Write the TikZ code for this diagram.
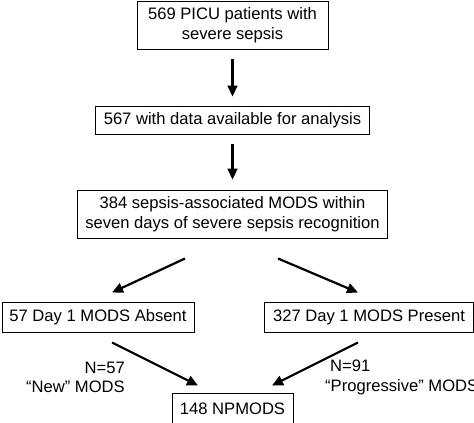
\documentclass[tikz,border=0pt]{standalone}
\usepackage{fontspec}
\setmainfont{Liberation Sans}
\usetikzlibrary{arrows.meta}

\tikzset{
  box/.style={draw, line width=1pt, inner sep=0pt, align=center},
  arr/.style={-{Triangle[length=11pt,width=10pt]}, line width=2.2pt},
  lbl/.style={inner sep=0pt}
}

\begin{document}
\begin{tikzpicture}[x=1pt, y=-1pt, every node/.style={font=\fontsize{16.6}{19.5}\selectfont}]
      \useasboundingbox (0,0) rectangle (474,423);
      % boxes
      \node[box, minimum width=191pt, minimum height=48pt] (start) at (232.5, 25) {569 PICU patients with\\severe sepsis};
      \node[box, minimum width=274pt, minimum height=28pt] (data) at (232.5, 120) {567 with data available for analysis};
      \node[box, minimum width=310pt, minimum height=48pt] (mods) at (232.5, 214) {384 sepsis-associated MODS within\\seven days of severe sepsis recognition};
      \node[box, minimum width=192pt, minimum height=30pt] (absent) at (98, 317) {57 Day 1 MODS Absent};
      \node[box, minimum width=209pt, minimum height=30pt] (present) at (369, 317) {327 Day 1 MODS Present};
      \node[box, minimum width=121pt, minimum height=32pt] (npmods) at (232.5, 409) {148 NPMODS};
      % labels
      \node[lbl, anchor=east, align=right] (newlbl) at (125, 377.5) {N=57\\“New” MODS};
      \node[lbl, anchor=west, align=left] (proglbl) at (325, 377.5) {\hspace*{5pt}N=91\\“Progressive” MODS};
      % arrows
      \draw[arr, shorten <=9pt, shorten >=9pt] (start.south) -- (data.north);
      \draw[arr, shorten <=9pt, shorten >=10pt] (data.south) -- (mods.north);
      \draw[arr] ([xshift=-47.5pt, yshift=-20pt]mods.south) -- ([xshift=14pt, yshift=9pt]absent.north);
      \draw[arr] ([xshift=45.5pt, yshift=-20pt]mods.south) -- ([xshift=-11pt, yshift=9pt]present.north);
      \draw[arr] ([xshift=14pt, yshift=-10pt]absent.south) -- ([xshift=-34.5pt, yshift=7pt]npmods.north);
      \draw[arr] ([xshift=-11pt, yshift=-10pt]present.south) -- ([xshift=39.5pt, yshift=7pt]npmods.north);
\end{tikzpicture}
\end{document}
